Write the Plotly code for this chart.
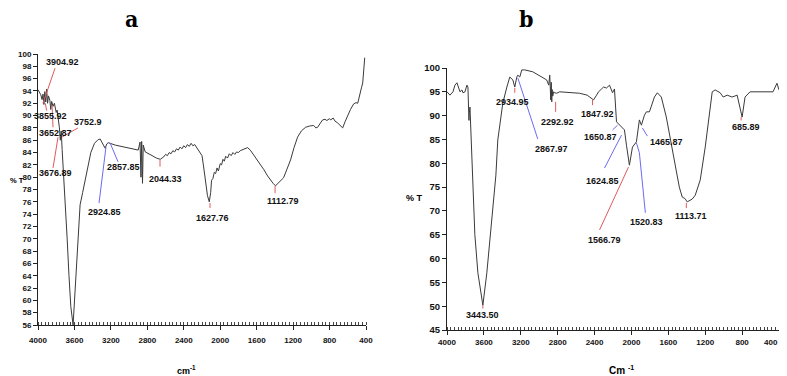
import plotly.graph_objects as go

# ---------------- data: spectrum a ----------------
a_wn = [4000, 3985, 3970, 3955, 3945, 3935, 3925, 3915, 3905, 3895, 3885, 3870, 3860, 3850,
        3835, 3820, 3800, 3790, 3775, 3765, 3755, 3745, 3735, 3720, 3700, 3680, 3660, 3640,
        3615, 3590, 3570, 3550, 3538, 3510, 3483, 3450, 3420, 3380, 3340, 3318, 3290, 3263,
        3245, 3230, 3150, 3050, 2950, 2900, 2880, 2870, 2862, 2853, 2845, 2823, 2760, 2700,
        2658, 2620, 2600, 2580, 2560, 2540, 2520, 2500, 2480, 2460, 2440, 2420, 2400, 2380,
        2360, 2340, 2320, 2300, 2280, 2260, 2240, 2220, 2200, 2185, 2160, 2140, 2120, 2105,
        2095, 2080, 2065, 2050, 2035, 2020, 2000, 1985, 1970, 1955, 1940, 1920, 1900, 1880,
        1860, 1840, 1820, 1800, 1780, 1760, 1730, 1700, 1670, 1640, 1600, 1560, 1520, 1480,
        1448, 1420, 1393, 1370, 1340, 1305, 1270, 1228, 1190, 1151, 1110, 1063, 1020, 975,
        950, 931, 900, 876, 850, 830, 800, 788, 760, 740, 711, 680, 656, 630, 601, 570, 535,
        510, 491, 470, 450, 436, 425, 414]
a_t = [94.2, 93.8, 93.4, 92.6, 93.5, 91.8, 93.9, 92.2, 94.3, 92.0, 93.2, 92.5, 91.0, 92.3,
       91.5, 92.0, 90.5, 90.9, 89.5, 88.0, 86.0, 87.5, 84.5, 81.0, 76.0, 70.0, 64.0, 59.0,
       56.0, 62.0, 68.0, 73.0, 75.5, 77.5, 79.5, 82.0, 84.0, 85.5, 86.1, 86.2, 85.5, 84.7,
       85.4, 85.6, 85.2, 84.9, 84.6, 84.4, 85.7, 80.0, 85.8, 79.0, 85.2, 84.1, 83.6, 83.1,
       82.9, 83.3, 83.7, 83.5, 84.0, 83.8, 84.3, 84.1, 84.6, 84.4, 84.9, 84.6, 85.1, 84.8,
       85.3, 85.0, 85.5, 85.1, 85.3, 84.8, 84.4, 84.0, 83.5, 82.0, 79.0, 77.0, 76.0, 77.5,
       79.5, 79.8, 80.8, 80.6, 81.5, 81.0, 82.2, 82.0, 82.9, 82.6, 83.4, 83.1, 83.8, 83.5,
       84.0, 83.7, 84.1, 84.0, 84.3, 84.4, 84.6, 84.8, 84.4, 83.8, 83.0, 82.2, 81.2, 80.2,
       79.5, 79.0, 78.6, 78.9, 79.3, 79.9, 81.2, 82.8, 84.8, 86.5, 87.5, 88.1, 88.3, 88.4,
       88.0, 88.1, 88.8, 89.3, 89.4, 89.2, 89.5, 89.3, 89.6, 89.1, 88.8, 88.4, 88.0, 89.0,
       90.1, 91.0, 91.9, 92.1, 92.0, 93.5, 94.5, 95.3, 97.5, 99.4]

# ---------------- data: spectrum b ----------------
b_wn = [4000, 3968, 3935, 3914, 3892, 3859, 3838, 3827, 3805, 3784, 3773, 3762, 3758, 3751,
        3740, 3719, 3698, 3665, 3611, 3568, 3514, 3481, 3470, 3449, 3416, 3395, 3351, 3319,
        3286, 3265, 3243, 3232, 3211, 3189, 3157, 3070, 2919, 2897, 2886, 2875, 2870, 2864,
        2860, 2854, 2843, 2832, 2811, 2778, 2700, 2562, 2480, 2432, 2411, 2378, 2357, 2324,
        2303, 2270, 2238, 2205, 2184, 2162, 2130, 2097, 2076, 2054, 2022, 1989, 1946, 1914,
        1892, 1859, 1838, 1805, 1784, 1751, 1719, 1676, 1622, 1557, 1481, 1449, 1420, 1395,
        1340, 1308, 1254, 1200, 1124, 1092, 1038, 1005, 962, 908, 854, 800, 768, 714, 605,
        465, 422, 411, 400]
b_t = [95.0, 94.3, 95.0, 96.4, 96.9, 95.0, 95.4, 94.8, 95.0, 96.4, 96.0, 89.0, 90.5, 91.8,
       86.0, 78.6, 65.0, 57.0, 50.2, 57.0, 67.5, 74.4, 77.5, 84.9, 90.1, 92.6, 96.0, 98.1,
       97.5, 96.0, 98.1, 98.5, 98.1, 99.6, 99.6, 99.2, 97.5, 96.4, 98.5, 93.3, 97.0, 92.9,
       95.5, 94.1, 95.0, 94.8, 94.7, 95.0, 94.9, 94.7, 94.3, 93.7, 93.3, 94.3, 95.0, 95.6,
       96.0, 95.8, 96.4, 94.8, 95.6, 88.7, 88.0, 87.4, 87.0, 83.8, 79.6, 83.4, 84.5, 89.1,
       88.0, 90.1, 90.8, 90.8, 92.2, 93.9, 94.8, 93.9, 89.7, 82.8, 75.0, 72.9, 72.6, 71.9,
       72.5, 73.3, 76.5, 83.4, 95.0, 95.4, 94.8, 93.9, 94.3, 93.9, 94.3, 89.7, 93.9, 95.0,
       95.0, 95.0, 96.8, 95.8, 95.4]

a_yticks = list(range(56, 101, 2))
b_yticks = list(range(45, 101, 5))
x_ticks = [4000, 3600, 3200, 2800, 2400, 2000, 1600, 1200, 800, 400]

# peak labels: (text, x, y, line segment points, colour)
RED = "#e05a5a"
BLUE = "#6b6bf0"
a_labels = [
    ("3904.92", 3726, 98.7, [(3813, 97.7), (3945, 92.0)], RED),
    ("3855.92", 3868, 89.9, [(3920, 92.0), (3905, 90.8)], RED),
    ("3652.87", 3813, 87.2, [(3846, 91.7), (3835, 88.1)], RED),
    ("3752.9", 3451, 89.0, [(3561, 88.0), (3737, 86.5)], RED),
    ("3676.89", 3813, 80.7, [(3835, 81.5), (3780, 86.5)], RED),
    ("2924.85", 3265, 74.4, [(3254, 84.9), (3330, 75.8)], BLUE),
    ("2857.85", 3067, 81.7, [(3210, 85.6), (3122, 82.5)], BLUE),
    ("2044.33", 2606, 79.7, [(2661, 82.8), (2661, 81.7)], RED),
    ("1627.76", 2090, 73.4, [(2112, 75.8), (2112, 75.0)], RED),
    ("1112.79", 1311, 76.1, [(1398, 78.6), (1398, 77.4)], RED),
]
b_labels = [
    ("3443.50", 3611, 48.2, [(3611, 50.2), (3611, 49.5)], RED),
    ("2934.95", 3286, 92.9, [(3265, 95.8), (3265, 94.8)], RED),
    ("2867.97", 2865, 83.0, [(3232, 97.9), (3016, 85.1)], BLUE),
    ("2292.92", 2800, 88.7, [(2822, 92.9), (2822, 90.8)], RED),
    ("1847.92", 2368, 90.3, [(2422, 93.3), (2422, 92.2)], RED),
    ("1650.87", 2335, 85.5, [(2205, 87.0), (2151, 88.0)], BLUE),
    ("1624.85", 2314, 76.3, [(2108, 85.9), (2292, 79.0)], BLUE),
    ("1566.79", 2292, 63.9, [(2032, 79.2), (2346, 66.0)], RED),
    ("1520.83", 1838, 67.7, [(1946, 84.3), (1914, 82.2), (1849, 69.6)], BLUE),
    ("1465.87", 1622, 84.5, [(1881, 87.4), (1827, 85.7)], BLUE),
    ("1113.71", 1351, 68.9, [(1405, 71.7), (1405, 70.6)], RED),
    ("685.89", 757, 87.6, [(811, 89.7), (811, 89.0)], RED),
]

FONT = "Liberation Sans, Arial, sans-serif"
OFF = 8          # page body margin
W, H = 787 - OFF, 376 - OFF


def fx(p):
    return (p - OFF) / W


def fy(p):
    return 1 - (p - OFF) / H


fig = go.Figure()
fig.add_trace(go.Scatter(x=a_wn, y=a_t, mode="lines", line=dict(color="#3a3a3a", width=1),
                         xaxis="x", yaxis="y", hoverinfo="skip"))
fig.add_trace(go.Scatter(x=b_wn, y=b_t, mode="lines", line=dict(color="#3a3a3a", width=1),
                         xaxis="x2", yaxis="y2", hoverinfo="skip"))

for labels, xr, yr in ((a_labels, "x", "y"), (b_labels, "x2", "y2")):
    for text, tx, ty, pts, col in labels:
        fig.add_trace(go.Scatter(x=[p[0] for p in pts], y=[p[1] for p in pts], mode="lines",
                                 line=dict(color=col, width=1), xaxis=xr, yaxis=yr,
                                 hoverinfo="skip"))
        fig.add_annotation(x=tx, y=ty, xref=xr, yref=yr, text=text, showarrow=False,
                           xanchor="center", yanchor="middle",
                           font=dict(family=FONT, size=9, color="#111", weight="bold"))


def axis_common(fs):
    return dict(showline=True, linecolor="#222", linewidth=1, showgrid=False,
                zeroline=False, ticks="outside", tickcolor="#222", ticklen=4,
                automargin=False, ticklabeloverflow="allow",
                tickfont=dict(family=FONT, size=fs, color="#111", weight="bold"))


# last x tick label of panel b is written as an annotation so it can sit flush right
b_ticktext = [str(v) if v != 400 else "" for v in x_ticks]

minor = dict(dtick=40, ticks="inside", ticklen=3, tickcolor="#444")
fig.update_layout(
    width=W, height=H, margin=dict(l=0, r=0, t=0, b=0),
    paper_bgcolor="white", plot_bgcolor="white", showlegend=False,
    xaxis=dict(domain=[fx(38), fx(366)], range=[4000, 400], tickvals=x_ticks,
               anchor="y", minor=minor, ticklabelstandoff=3, **axis_common(8)),
    yaxis=dict(domain=[fy(325), fy(54)], range=[56, 100], tickvals=a_yticks,
               anchor="x", **axis_common(8)),
    xaxis2=dict(domain=[fx(447), fx(779)], range=[4000, 400], tickvals=x_ticks,
                ticktext=b_ticktext, anchor="y2", minor=minor, **axis_common(8)),
    yaxis2=dict(domain=[fy(330), fy(68)], range=[45, 100], tickvals=b_yticks,
                anchor="x2", **axis_common(9.5)),
)
fig.add_annotation(x=x_ticks[-1], y=fy(342), xref="x2", yref="paper", text=str(x_ticks[-1]),
                   showarrow=False, xanchor="right", xshift=1, yanchor="middle",
                   font=dict(family=FONT, size=8, color="#111", weight="bold"))

SERIF = "DejaVu Serif Condensed, Liberation Serif, serif"
paper_texts = [
    ("a", 131, 19, "center", SERIF, 23),
    ("b", 526, 19, "center", SERIF, 23),
    ("% T", 8, 181, "left", FONT, 7.5),
    ("% T", 404, 198, "left", FONT, 9),
    ("cm<sup>-1</sup>", 186, 370, "center", FONT, 9),
    ("Cm <sup>-1</sup>", 621, 370, "center", FONT, 10),
]
for text, px, py, xa, fam, fs in paper_texts:
    fig.add_annotation(x=fx(px), y=fy(py), xref="paper", yref="paper", text=text,
                       showarrow=False, xanchor=xa, yanchor="middle",
                       font=dict(family=fam, size=fs, color="#000", weight="bold"))

fig.write_html("out.html")
